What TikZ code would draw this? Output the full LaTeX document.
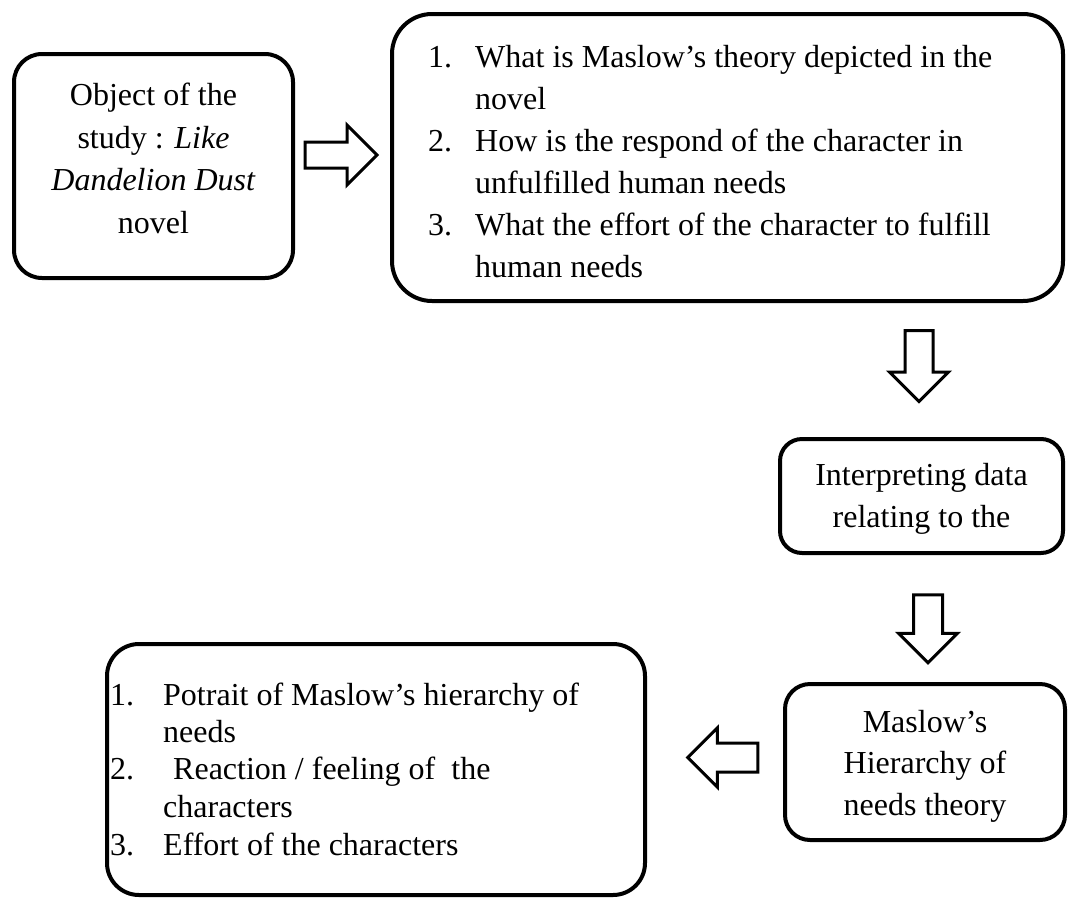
\documentclass[tikz,border=0pt]{standalone}
\usepackage{fontspec}
\setmainfont{Liberation Serif}
\usetikzlibrary{shapes.arrows}
\begin{document}
\begin{tikzpicture}[x=1pt,y=-1pt,
  box/.style={draw=black, line width=4pt, rounded corners=#1, inner sep=0pt},
  box/.default=30pt,
  blockarrow/.style={single arrow, draw=black, line width=3pt, inner sep=0pt,
    single arrow head extend=#1, single arrow tip angle=90},
  txt/.style={inner sep=0pt, font=\fontsize{32}{38}\selectfont},
  ctxt/.style={txt, anchor=base},
  ltxt/.style={txt, anchor=base west},
]
\useasboundingbox[fill=white] (0,0) rectangle (1068,900);

% boxes
\node[box=28pt, minimum width=279pt, minimum height=224pt] (b1) at (153.5,166) {};
\node[box=40pt, minimum width=671pt, minimum height=287pt] (b2) at (727.5,157.5) {};
\node[box=22pt, minimum width=283pt, minimum height=114pt] (b3) at (921.5,496) {};
\node[box=25pt, minimum width=280pt, minimum height=156pt] (b4) at (925,762) {};
\node[box=32pt, minimum width=538pt, minimum height=251pt] (b5) at (376,769.5) {};

% block arrows
\node[blockarrow=17pt, inner ysep=11.5pt, minimum height=72pt, shape border rotate=0] (a12) at (334.5,155) {};
\node[blockarrow=15.5pt, inner xsep=12.5pt, minimum height=71pt, shape border rotate=270] (a23) at (919,359) {};
\node[blockarrow=15pt, inner xsep=13pt, minimum height=68pt, shape border rotate=270] (a34) at (928,621.5) {};
\node[blockarrow=15pt, inner ysep=13pt, minimum height=70pt, shape border rotate=180] (a45) at (730,757.5) {};

% box 1 text
\node[ctxt] (t1a) at (153.5,105) {Object of the};
\node[ctxt] (t1b) at (153.5,148) {study : \textit{Like}};
\node[ctxt] (t1c) at (153.5,190) {\textit{Dandelion Dust}};
\node[ctxt] (t1d) at (153.5,233) {novel};

% box 2 text
\node[ltxt] (n2a) at (428,67) {1.};
\node[ltxt] (t2a) at (475,67) {What is Maslow’s theory depicted in the};
\node[ltxt] (t2b) at (475,109) {novel};
\node[ltxt] (n2b) at (428,151) {2.};
\node[ltxt] (t2c) at (475,151) {How is the respond of the character in};
\node[ltxt] (t2d) at (475,193) {unfulfilled human needs};
\node[ltxt] (n2c) at (428,235) {3.};
\node[ltxt] (t2e) at (475,235) {What the effort of the character to fulfill};
\node[ltxt] (t2f) at (475,277) {human needs};

% box 3 text
\node[ctxt] (t3a) at (921.5,485) {Interpreting data};
\node[ctxt] (t3b) at (921.5,527) {relating to the};

% box 4 text
\node[ctxt] (t4a) at (925,732) {Maslow’s};
\node[ctxt] (t4b) at (925,773) {Hierarchy of};
\node[ctxt] (t4c) at (925,815) {needs theory};

% box 5 text
\node[ltxt] (n5a) at (110,705) {1.};
\node[ltxt] (t5a) at (163,705) {Potrait of Maslow’s hierarchy of};
\node[ltxt] (t5b) at (163,742) {needs};
\node[ltxt] (n5b) at (110,779) {2.};
\node[ltxt] (t5c) at (173,779) {Reaction / feeling of~~the};
\node[ltxt] (t5d) at (163,817) {characters};
\node[ltxt] (n5c) at (110,855) {3.};
\node[ltxt] (t5e) at (163,855) {Effort of the characters};
\end{tikzpicture}
\end{document}
